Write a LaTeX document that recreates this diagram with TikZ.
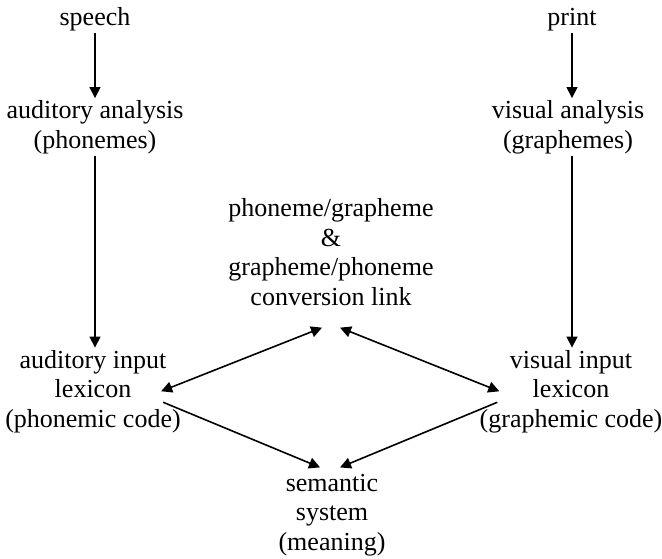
\documentclass[tikz,border=0pt]{standalone}
\usepackage{fontspec}
\setmainfont{Liberation Serif}
\usetikzlibrary{arrows.meta,positioning,calc}

\begin{document}
\begin{tikzpicture}[x=0.5pt,y=-0.5pt,
  every node/.style={font=\fontsize{13}{14.75}\selectfont,align=center,inner sep=1pt,anchor=base},
  arr/.style={-{Triangle[length=5.5pt,width=5.5pt]},line width=0.8pt},
  darr/.style={{Triangle[length=5.5pt,width=5.5pt]}-{Triangle[length=5.5pt,width=5.5pt]},line width=0.8pt}]
\useasboundingbox (0,0) rectangle (662,558);
\node (speech) at (95,25) {speech};
\node (aana) at (95,148) {auditory analysis\\(phonemes)};
\node (alex) at (93,427) {auditory input\\lexicon\\(phonemic code)};
\node (print) at (572,25) {print};
\node (vana) at (568,148) {visual analysis\\(graphemes)};
\node (vlex) at (571,427) {visual input\\lexicon\\(graphemic code)};
\node (conv) at (331,305) {phoneme/grapheme\\\&\\grapheme/phoneme\\conversion link};
\node (sem) at (332,550) {semantic\\system\\(meaning)};
\draw[arr] (speech) -- (aana); \draw[arr] (aana) -- (aana |- alex.north);
\draw[arr] (print) -- (print |- vana.north); \draw[arr] (print |- vana.south) -- (print |- vlex.north);
% conversion link: both ways to each lexicon
\draw[darr] ([xshift=-11pt]alex.east) -- ([shift={(-9,20)}]conv.south);
\draw[darr] ([xshift=11pt]vlex.west) -- ([shift={(9,20)}]conv.south);
\draw[arr] ([shift={(-20,11)}]alex.east) -- ([shift={(-12,-4)}]sem.north);
\draw[arr] ([shift={(20,11)}]vlex.west) -- ([shift={(8,-4)}]sem.north);
\end{tikzpicture}
\end{document}
